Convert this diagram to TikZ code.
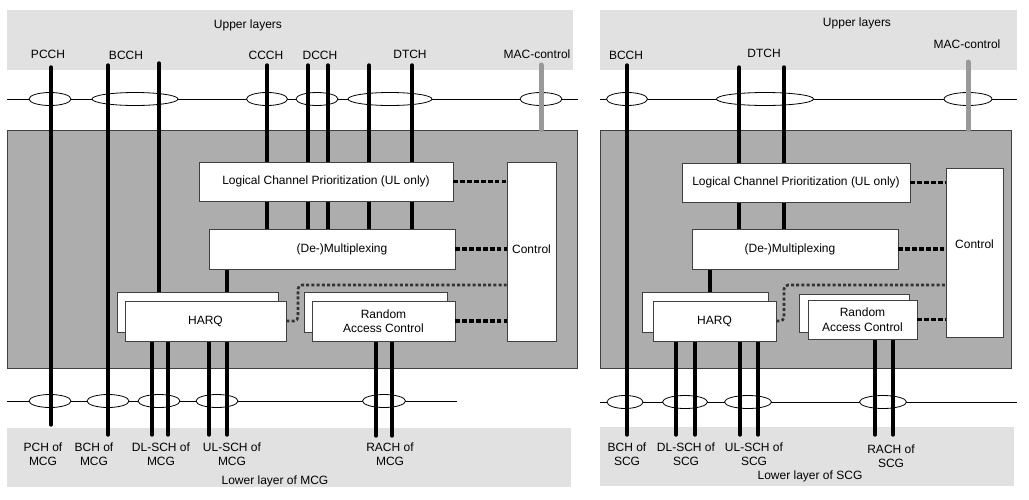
\documentclass[tikz,border=0pt]{standalone}
\usepackage{fontspec}
\setmainfont{Liberation Sans}
\usetikzlibrary{shapes.geometric,backgrounds}
\definecolor{bandgray}{HTML}{E1E1E1}
\definecolor{maingray}{HTML}{ADADAD}
\definecolor{edgegray}{HTML}{404040}
\definecolor{macgray}{HTML}{999999}
\begin{document}
\begin{tikzpicture}[x=1pt,y=-1pt,
  font=\fontsize{12}{14.5}\selectfont,
  band/.style={rectangle, fill=bandgray, draw=none, inner sep=0pt},
  mainbox/.style={rectangle, fill=maingray, draw=edgegray, line width=0.9pt, inner sep=0pt},
  wbox/.style={rectangle, draw=edgegray, fill=white, line width=0.9pt, inner sep=0pt, align=center},
  ell/.style={ellipse, draw=black, fill=white, line width=0.8pt, inner sep=0pt, minimum height=13pt},
  hline/.style={line width=0.8pt, draw=black},
  ch/.style={line width=3.4pt, line cap=round},
  macline/.style={line width=5pt, draw=macgray, line cap=round},
  dotl/.style={line width=3.2pt, dash pattern=on 4.6pt off 2.3pt, draw=black},
  dotk/.style={line width=2.6pt, dash pattern=on 3pt off 2.2pt, draw=black!80, rounded corners=4pt},
  lbl/.style={align=center, inner sep=0pt},
]
\useasboundingbox (0,0) rectangle (1029,499);

% ---------- white boxes (left) ----------
\node[wbox, minimum width=254pt, minimum height=39pt] (lcpL) at (326,181.5) {Logical Channel Prioritization (UL only)};
\node[wbox, minimum width=246pt, minimum height=40pt, label={[xshift=10pt]center:(De-)Multiplexing}] (muxL) at (332,249) {};
\node[wbox, minimum width=161pt, minimum height=40pt] (harqLb) at (197.5,312) {};
\node[wbox, minimum width=161pt, minimum height=40pt] (harqLf) at (205.5,321) {HARQ};
\node[wbox, minimum width=143pt, minimum height=40pt] (racLb) at (375.5,312) {};
\node[wbox, minimum width=143pt, minimum height=40pt] (racLf) at (383.5,321) {Random\\Access Control};
\node[wbox, minimum width=49pt, minimum height=179pt, label={[yshift=2pt]center:Control}] (ctlL) at (531.5,251.5) {};

% ---------- white boxes (right) ----------
\node[wbox, minimum width=228pt, minimum height=39pt] (lcpR) at (796,182.5) {Logical Channel Prioritization (UL only)};
\node[wbox, minimum width=206pt, minimum height=40pt, label={[xshift=-5pt]center:(De-)Multiplexing}] (muxR) at (795,249) {};
\node[wbox, minimum width=126pt, minimum height=40pt] (harqRb) at (705,312) {};
\node[wbox, minimum width=123pt, minimum height=40pt] (harqRf) at (714.5,321) {HARQ};
\node[wbox, minimum width=110pt, minimum height=38pt] (racRb) at (854,313) {};
\node[wbox, minimum width=109pt, minimum height=39pt] (racRf) at (862.5,319.5) {Random\\Access Control};
\node[wbox, minimum width=57pt, minimum height=169pt, label={[yshift=8.5pt]center:Control}] (ctlR) at (974.5,252.5) {};

\begin{scope}[on background layer]
  % bands
  \node[band, minimum width=566pt, minimum height=60pt] (upL) at (290,40) {};
  \node[band, minimum width=417pt, minimum height=60pt] (upR) at (808.5,40) {};
  \node[band, minimum width=564pt, minimum height=59pt] (loL) at (289,457.5) {};
  \node[band, minimum width=414pt, minimum height=59pt] (loR) at (807,456.5) {};
  % main gray boxes
  \node[mainbox, minimum width=570pt, minimum height=238pt] (mainL) at (292,249) {};
  \node[mainbox, minimum width=411pt, minimum height=238pt] (mainR) at (805.5,249) {};
  % horizontal lines
  \coordinate (htLa) at (7,99);   \coordinate (htLb) at (578,99);
  \coordinate (hbLa) at (7,401);  \coordinate (hbLb) at (457,401);
  \coordinate (htRa) at (600,99); \coordinate (htRb) at (1017,99);
  \coordinate (hbRa) at (600,402);\coordinate (hbRb) at (1017,402);
  \draw[hline] (htLa) -- (htLb);
  \draw[hline] (hbLa) -- (hbLb);
  \draw[hline] (htRa) -- (htRb);
  \draw[hline] (hbRa) -- (hbRb);
  % ellipses top left
  \node[ell, minimum width=42pt] (ePCCH) at (50,99) {};
  \node[ell, minimum width=86pt] (eBCCH) at (135,99) {};
  \node[ell, minimum width=41pt] (eCCCH) at (267,99) {};
  \node[ell, minimum width=42pt] (eDCCH) at (317,99) {};
  \node[ell, minimum width=84pt] (eDTCH) at (390,99) {};
  \node[ell, minimum width=42pt] (eMACL) at (541,99) {};
  % ellipses bottom left
  \node[ell, minimum width=42pt] (ePCH) at (50,401) {};
  \node[ell, minimum width=42pt] (eBCHL) at (108,401) {};
  \node[ell, minimum width=42pt] (eDLL) at (159,401) {};
  \node[ell, minimum width=42pt] (eULL) at (217,401) {};
  \node[ell, minimum width=43pt] (eRAL) at (384,401) {};
  % ellipses top right
  \node[ell, minimum width=41pt] (eBCCHR) at (627,99) {};
  \node[ell, minimum width=97pt] (eDTCHR) at (765,99) {};
  \node[ell, minimum width=48pt] (eMACR) at (968,99) {};
  % ellipses bottom right
  \node[ell, minimum width=36pt] (eBCHR) at (625,402) {};
  \node[ell, minimum width=45pt] (eDLR) at (685,402) {};
  \node[ell, minimum width=47pt] (eULR) at (748,402) {};
  \node[ell, minimum width=47pt] (eRAR) at (883,402) {};

  % ---- vertical channel lines left ----
  \coordinate (pcchL) at (51,67);   \coordinate (pchL) at (51,425);
  \coordinate (bcchLa) at (108,65); \coordinate (bchL) at (108,435);
  \coordinate (bcchLb) at (159,63);
  \coordinate (ccchL) at (267,65);
  \coordinate (dcchLa) at (308,65); \coordinate (dcchLb) at (328,65);
  \coordinate (dtchLa) at (369,65); \coordinate (dtchLb) at (412,65);
  \coordinate (macLt) at (541,65);
  \coordinate (mhL) at (227,280);
  \coordinate (dlLa) at (152,435); \coordinate (dlLb) at (168,435);
  \coordinate (ulLa) at (209,435); \coordinate (ulLb) at (227,435);
  \coordinate (raLa) at (376,436); \coordinate (raLb) at (392,436);
  \draw[ch] (pcchL) -- (pchL);
  \draw[ch] (bcchLa) -- (bchL);
  \draw[ch] (bcchLb) -- (bcchLb |- harqLb.north);
  \foreach \c in {ccchL,dcchLa,dcchLb,dtchLa,dtchLb} {
    \draw[ch] (\c) -- (\c |- lcpL.north);
    \draw[ch] (\c |- lcpL.south) -- (\c |- muxL.north);
  }
  \draw[ch] (mhL |- muxL.south) -- (mhL |- harqLb.north);
  \foreach \c in {dlLa,dlLb,ulLa,ulLb} \draw[ch] (harqLf.south -| \c) -- (\c);
  \foreach \c in {raLa,raLb} \draw[ch] (racLf.south -| \c) -- (\c);
  \draw[macline] (macLt) -- (macLt |- mainL.north);

  % ---- vertical channel lines right ----
  \coordinate (bcchR) at (627,65); \coordinate (bchR) at (627,435);
  \coordinate (dtchRa) at (739,67); \coordinate (dtchRb) at (784,67);
  \coordinate (macRt) at (968,62);
  \coordinate (mhR) at (710,280);
  \coordinate (dlRa) at (676,435); \coordinate (dlRb) at (695,435);
  \coordinate (ulRa) at (740,435); \coordinate (ulRb) at (758,435);
  \coordinate (raRa) at (875,435); \coordinate (raRb) at (893,435);
  \draw[ch] (bcchR) -- (bchR);
  \foreach \c in {dtchRa,dtchRb} {
    \draw[ch] (\c) -- (\c |- lcpR.north);
    \draw[ch] (\c |- lcpR.south) -- (\c |- muxR.north);
  }
  \draw[ch] (mhR |- muxR.south) -- (mhR |- harqRb.north);
  \foreach \c in {dlRa,dlRb,ulRa,ulRb} \draw[ch] (harqRf.south -| \c) -- (\c);
  \foreach \c in {raRa,raRb} \draw[ch] (racRf.south -| \c) -- (\c);
  \draw[macline] (macRt) -- (macRt |- mainR.north);
\end{scope}

% ---------- dotted control connectors ----------
\draw[dotl] (lcpL.east) -- (lcpL.east -| ctlL.west);
\draw[dotl] (muxL.east) -- (muxL.east -| ctlL.west);
\draw[dotl] (racLf.east) -- (racLf.east -| ctlL.west);
\coordinate (hkL) at (298,285);
\draw[dotk] (harqLf.east) -| (hkL) -- (hkL -| ctlL.west);

\draw[dotl] (lcpR.east) -- (lcpR.east -| ctlR.west);
\draw[dotl] (muxR.east) -- (muxR.east -| ctlR.west);
\draw[dotl] (racRf.east) -- (racRf.east -| ctlR.west);
\coordinate (hkR) at (784,285);
\draw[dotk] (harqRf.east) -| (hkR) -- (hkR -| ctlR.west);

% ---------- labels left ----------
\node[lbl] (tUpL) at (248,25) {Upper layers};
\node[lbl] (tPCCH) at (48,54) {PCCH};
\node[lbl] (tBCCH) at (126,55) {BCCH};
\node[lbl] (tCCCH) at (266,55) {CCCH};
\node[lbl] (tDCCH) at (320,55) {DCCH};
\node[lbl] (tDTCH) at (410,54) {DTCH};
\node[lbl] (tMACL) at (537,54) {MAC-control};
\node[lbl] (tPCH) at (43,454) {PCH of\\MCG};
\node[lbl] (tBCHL) at (94,454) {BCH of\\MCG};
\node[lbl] (tDLL) at (161,454) {DL-SCH of\\MCG};
\node[lbl] (tULL) at (232,454) {UL-SCH of\\MCG};
\node[lbl] (tRAL) at (390,454) {RACH of\\MCG};
\node[lbl] (tLoL) at (275,481) {Lower layer of MCG};

% ---------- labels right ----------
\node[lbl] (tUpR) at (857,23) {Upper layers};
\node[lbl] (tBCCHR) at (626,55) {BCCH};
\node[lbl] (tDTCHR) at (764,53) {DTCH};
\node[lbl] (tMACR) at (967,44) {MAC-control};
\node[lbl] (tBCHR) at (627,454) {BCH of\\SCG};
\node[lbl] (tDLR) at (686,454) {DL-SCH of\\SCG};
\node[lbl] (tULR) at (754,454) {UL-SCH of\\SCG};
\node[lbl] (tRAR) at (891,456) {RACH of\\SCG};
\node[lbl] (tLoR) at (810,476) {Lower layer of SCG};
\end{tikzpicture}
\end{document}
